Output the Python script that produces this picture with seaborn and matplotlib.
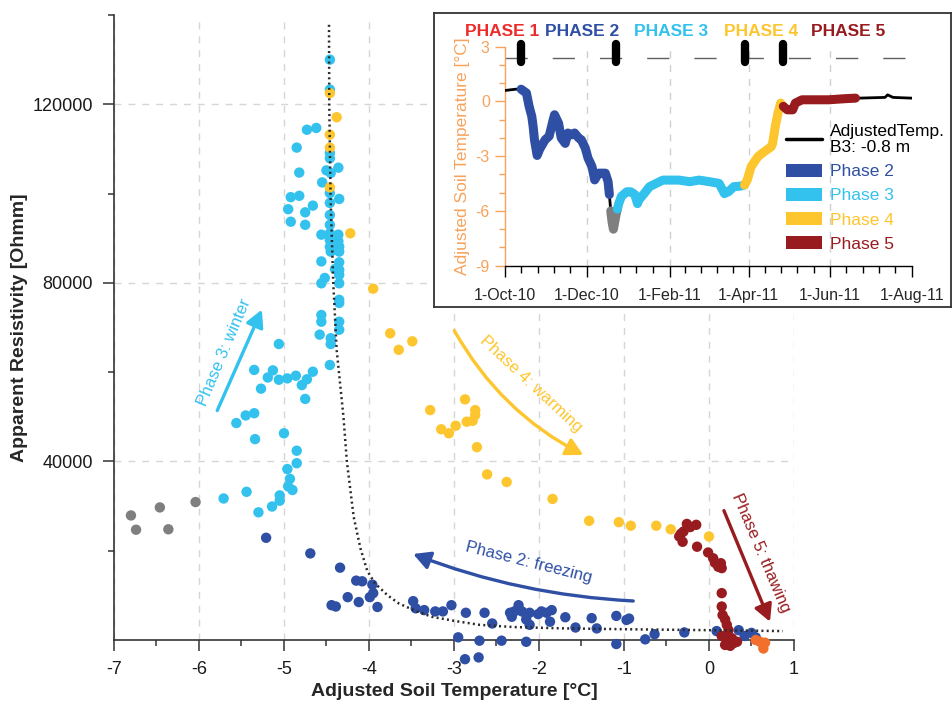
import numpy as np
import pandas as pd
import matplotlib
matplotlib.use("Agg")
import matplotlib.pyplot as plt
import matplotlib.dates as mdates
from matplotlib.lines import Line2D
from matplotlib.patches import Patch
from matplotlib.ticker import MultipleLocator, FixedLocator
import seaborn as sns

# ---------------------------------------------------------------------------
# Soil temperature [°C] vs. apparent resistivity [Ohm m], grouped by phase
# ---------------------------------------------------------------------------
trans_temp = [-6.80, -6.74, -6.46, -6.36, -6.04]
trans_rho = [27900, 24700, 29700, 24800, 30900]

p1_temp = [0.55, 0.60, 0.66, 0.64]
p1_rho = [0, -400, -600, -1900]

p2_temp = [-5.21, -4.69, -4.34, -4.15, -4.08, -3.96, -3.95, -3.99, -4.25, -4.12,
           -3.90, -4.44, -4.39, -3.48, -3.45, -3.35, -3.22, -3.13, -3.03, -2.86,
           -2.64, -2.55, -2.95, -2.70, -2.44, -2.15, -2.87, -2.71, -2.34, -2.29,
           -2.24, -2.20, -2.15, -2.11, -2.01, -1.97, -1.91, -1.85, -2.32, -2.15,
           -2.11, -1.87, -1.69, -1.57, -1.38, -1.32, -1.09, -0.97, -0.94, -1.09,
           -0.75, -0.64, -0.29, 0.09, 0.35, 0.42, 0.50, 0.55]
p2_rho = [22900, 19400, 16200, 13300, 13150, 12400, 10500, 9600, 9600, 8500,
          7400, 7800, 7500, 8700, 7100, 6700, 6400, 6400, 7800, 6100,
          6100, 3700, 600, -150, -150, -400, -4300, -3900, 6100, 6400,
          7800, 6400, 5800, 6100, 5800, 6400, 6100, 6700, 5200, 4600,
          3400, 4100, 5100, 2800, 4900, 2600, 5400, 4500, 4800, -900,
          150, 1300, 1700, 2000, 2200, 900, 1600, 600]

p3_temp = [-4.46, -4.46, -4.73, -4.62, -4.85, -4.46, -4.46, -4.82, -4.50, -4.45,
           -4.36, -4.55, -4.46, -4.46, -4.35, -4.92, -4.82, -4.95, -4.66, -4.75,
           -4.92, -4.75, -4.46, -4.46, -4.56, -4.46, -4.36, -4.46, -4.36, -4.46,
           -4.35, -4.45, -4.35, -4.56, -4.35, -4.35, -4.40, -4.35, -4.52, -4.56,
           -4.35, -4.35, -4.35, -4.56, -4.56, -4.35, -4.35, -4.58, -4.45, -4.45,
           -5.06, -4.46, -5.35, -5.13, -5.19, -5.06, -4.96, -4.86, -4.66, -4.73,
           -4.79, -5.27, -4.75, -5.35, -5.45, -5.56, -5.34, -5.00, -4.85, -4.85,
           -4.96, -4.93, -4.95, -4.90, -5.05, -5.05, -5.44, -5.71, -5.14, -5.30]
p3_rho = [130000, 123300, 114300, 114700, 110300, 109100, 107900, 104700, 105200, 104600,
          105800, 102500, 100100, 97900, 98800, 99200, 99500, 96500, 97300, 95800,
          93700, 93000, 95200, 93000, 90800, 91100, 90800, 89600, 89300, 88100,
          88100, 87000, 87000, 84800, 84600, 82900, 83100, 81800, 81100, 79900,
          79900, 76200, 75500, 72800, 71300, 71300, 69500, 68400, 67600, 66300,
          66300, 61600, 60500, 60400, 58800, 58300, 58600, 59200, 60100, 58400,
          57100, 56300, 54000, 50800, 50300, 48600, 45000, 46300, 42400, 39600,
          38300, 36100, 34400, 33600, 32400, 31200, 33200, 31700, 29900, 28600]

p4_temp = [-4.46, -4.38, -4.46, -4.46, -4.46, -4.22, -3.95, -3.75, -3.65, -3.49,
           -3.28, -2.87, -2.75, -2.75, -2.85, -2.78, -3.15, -3.06, -2.98, -2.73,
           -2.61, -2.38, -1.84, -1.41, -1.06, -0.92, -0.62, -0.45, 0.00]
p4_rho = [122500, 117100, 113200, 110300, 101400, 91100, 78700, 68700, 65000, 66900,
          51500, 53900, 51500, 50400, 48900, 49100, 47200, 46300, 48000, 43200,
          37100, 35400, 31600, 26700, 26400, 25600, 25600, 24800, 23200]

p5_temp = [-0.26, -0.15, -0.22, -0.30, -0.33, -0.35, -0.31, -0.14, -0.01, 0.05,
           0.07, 0.14, 0.15, 0.11, 0.15, 0.15, 0.16, 0.19, 0.21, 0.23,
           0.15, 0.21, 0.27, 0.33, 0.19, 0.25, 0.29]
p5_rho = [26000, 25800, 25300, 24300, 23800, 23200, 22000, 20900, 19600, 18300,
          17300, 17200, 16100, 16400, 10500, 7500, 5600, 4600, 3400, 2200,
          900, 0, 400, -400, -1100, -1300, -700]

# Fitted temperature-resistivity relation (dotted curve)
fit_temp = [-4.47, -4.467, -4.451, -4.42, -4.38, -4.30, -4.26, -4.18, -4.10, -4.02,
            -3.93, -3.78, -3.65, -3.45, -3.26, -3.00, -2.70, -2.30, -1.70, -0.93,
            0.00, 0.87]
fit_rho = [137800, 120000, 98600, 80000, 65000, 50000, 40000, 27600, 20500, 15500,
           12700, 10000, 8200, 6500, 5200, 4300, 3400, 2900, 2600, 2400,
           2200, 2000]

# ---------------------------------------------------------------------------
# Borehole B3 temperature record at -0.8 m
# ---------------------------------------------------------------------------
temp_dates = ["2010-10-01", "2010-10-09", "2010-10-13", "2010-10-17", "2010-10-19",
              "2010-10-21", "2010-10-22", "2010-10-23", "2010-10-25", "2010-10-27",
              "2010-10-31", "2010-11-03", "2010-11-06", "2010-11-07", "2010-11-10",
              "2010-11-12", "2010-11-15", "2010-11-17", "2010-11-20", "2010-11-22",
              "2010-11-25", "2010-11-27", "2010-11-30", "2010-12-02", "2010-12-05",
              "2010-12-07", "2010-12-10", "2010-12-12", "2010-12-15", "2010-12-17",
              "2010-12-18", "2010-12-19", "2010-12-20", "2010-12-21", "2010-12-23",
              "2010-12-24", "2010-12-25", "2010-12-27", "2010-12-31", "2011-01-03",
              "2011-01-06", "2011-01-08", "2011-01-09", "2011-01-13", "2011-01-17",
              "2011-01-22", "2011-01-27", "2011-02-01", "2011-02-08", "2011-02-16",
              "2011-02-23", "2011-03-03", "2011-03-10", "2011-03-14", "2011-03-17",
              "2011-03-21", "2011-03-26", "2011-03-29", "2011-03-31", "2011-04-03",
              "2011-04-08", "2011-04-11", "2011-04-18", "2011-04-19", "2011-04-21",
              "2011-04-23", "2011-04-25", "2011-04-27", "2011-04-30", "2011-05-04",
              "2011-05-06", "2011-05-11", "2011-05-21", "2011-05-31", "2011-06-12",
              "2011-06-20", "2011-06-22", "2011-07-12", "2011-07-14", "2011-07-18",
              "2011-08-01"]
temp_values = [0.60, 0.67, 0.67, 0.46, -0.27, -0.82, -1.37, -2.10, -2.96, -2.60,
               -2.10, -1.90, -1.00, -0.73, -1.19, -2.00, -2.30, -1.73, -1.83, -1.73,
               -2.00, -2.10, -2.56, -3.10, -3.57, -4.30, -3.93, -3.93, -3.93, -4.39,
               -5.10, -6.00, -6.60, -7.00, -6.20, -5.90, -5.60, -5.20, -4.95, -4.95,
               -5.10, -5.60, -5.40, -5.05, -4.67, -4.49, -4.31, -4.31, -4.31, -4.40,
               -4.31, -4.40, -4.49, -5.05, -4.95, -4.67, -4.64, -4.58, -4.31, -3.57,
               -3.03, -2.85, -2.48, -2.30, -1.37, -0.64, -0.09, -0.27, -0.46, -0.46,
               -0.09, 0.09, 0.09, 0.09, 0.15, 0.18, 0.18, 0.22, 0.36, 0.22,
               0.18]

phase_names = ["Phase 2", "Transition", "Phase 3", "Phase 4", "Phase 5"]
phase_start = ["2010-10-13", "2010-12-19", "2010-12-24", "2011-03-29", "2011-04-27"]
phase_end = ["2010-12-18", "2010-12-24", "2011-03-29", "2011-04-27", "2011-06-20"]
phase_bounds = ["2010-10-13", "2010-12-23", "2011-03-29", "2011-04-27"]
phase_titles = ["PHASE 1", "PHASE 2", "PHASE 3", "PHASE 4", "PHASE 5"]

# ---------------------------------------------------------------------------
# Styling
# ---------------------------------------------------------------------------
colors = {
    "Transition": "#7F7F7F",
    "Phase 1": "#F26F2C",
    "Phase 2": "#2E4FA3",
    "Phase 3": "#33C1EE",
    "Phase 4": "#FDC52E",
    "Phase 5": "#981C1F",
}
title_colors = ["#ED2B2A", "#2E4FA3", "#33C1EE", "#FDC52E", "#981C1F"]
AXIS_ORANGE = "#F7A35C"
SPINE = "#333333"

sns.set_theme(style="white")
plt.rcParams["font.family"] = ["Liberation Sans", "DejaVu Sans"]
plt.rcParams["axes.unicode_minus"] = False

fig = plt.figure(figsize=(9.52, 7.04), dpi=100)

# ---------------------------------------------------------------------------
# Main scatter panel
# ---------------------------------------------------------------------------
ax = fig.add_axes([0.1197, 0.0909, 0.7143, 0.8878])

groups = [("Transition", trans_temp, trans_rho), ("Phase 2", p2_temp, p2_rho),
          ("Phase 3", p3_temp, p3_rho), ("Phase 4", p4_temp, p4_rho),
          ("Phase 5", p5_temp, p5_rho), ("Phase 1", p1_temp, p1_rho)]
df = pd.concat([pd.DataFrame({"temp": t, "rho": r, "phase": name})
                for name, t, r in groups], ignore_index=True)

sns.scatterplot(data=df, x="temp", y="rho", hue="phase", palette=colors,
                s=56, linewidth=0, legend=False, ax=ax, clip_on=False, zorder=3)
ax.plot(fit_temp, fit_rho, color="#2a2a2a", lw=1.8, dashes=(0.8, 1.3),
        zorder=4, clip_on=False)

ax.set_xlim(-7, 1)
ax.set_ylim(0, 140000)
ax.set_xticks(range(-7, 2))
ax.xaxis.set_minor_locator(MultipleLocator(0.5))
ax.set_yticks([40000, 80000, 120000])
ax.set_yticklabels(["40000", "80000", "120000"])
ax.yaxis.set_minor_locator(FixedLocator([20000, 60000, 100000, 140000]))
ax.tick_params(which="major", direction="out", length=8, width=1.1,
               color=SPINE, labelsize=13, pad=7, labelcolor="#1a1a1a")
ax.tick_params(which="minor", direction="out", length=4.5, width=1.1, color=SPINE)
ax.tick_params(axis="x", which="both", bottom=True)
ax.tick_params(axis="y", which="both", left=True)
for side in ["top", "right"]:
    ax.spines[side].set_visible(False)
for side in ["left", "bottom"]:
    ax.spines[side].set_color(SPINE)
    ax.spines[side].set_linewidth(1.2)
ax.grid(True, which="major", color="#D6D6D6", lw=1.0, dashes=(5, 5))
ax.set_axisbelow(True)
ax.set_xlabel("Adjusted Soil Temperature [°C]", fontsize=14, fontweight="bold",
              labelpad=4)
ax.set_ylabel("Apparent Resistivity [Ohmm]", fontsize=14, fontweight="bold",
              labelpad=3)

arrow_kw = dict(arrowstyle="-|>,head_length=0.6,head_width=0.32",
                mutation_scale=17, lw=2.4, shrinkA=0, shrinkB=0)

ax.annotate("", xy=(-5.26, 74000), xytext=(-5.785, 51400),
            arrowprops=dict(color=colors["Phase 3"], **arrow_kw))
ax.text(-5.70, 64500, "Phase 3: winter", color=colors["Phase 3"], fontsize=12,
        rotation=67, rotation_mode="anchor", ha="center", va="center")

ax.annotate("", xy=(-1.479, 41460), xytext=(-2.996, 69310),
            arrowprops=dict(color=colors["Phase 4"],
                            connectionstyle="arc3,rad=0.15", **arrow_kw))
ax.text(-2.10, 57400, "Phase 4: warming", color=colors["Phase 4"], fontsize=12,
        rotation=-43, rotation_mode="anchor", ha="center", va="center")

ax.annotate("", xy=(-3.48, 19270), xytext=(-0.891, 8740),
            arrowprops=dict(color=colors["Phase 2"],
                            connectionstyle="arc3,rad=-0.08", **arrow_kw))
ax.text(-2.12, 17300, "Phase 2: freezing", color=colors["Phase 2"], fontsize=12,
        rotation=-14, rotation_mode="anchor", ha="center", va="center")

ax.annotate("", xy=(0.718, 4100), xytext=(0.176, 28980),
            arrowprops=dict(color=colors["Phase 5"], **arrow_kw))
ax.text(0.612, 19500, "Phase 5: thawing", color=colors["Phase 5"], fontsize=12,
        rotation=-67, rotation_mode="anchor", ha="center", va="center")

# ---------------------------------------------------------------------------
# Inset: temperature time series in a framed box
# ---------------------------------------------------------------------------
frame = fig.add_axes([0.4559, 0.5639, 0.5431, 0.4176])
frame.set_zorder(5)
frame.set_facecolor("white")
frame.set_xticks([])
frame.set_yticks([])
for sp in frame.spines.values():
    sp.set_color(SPINE)
    sp.set_linewidth(1.3)

ax_in = fig.add_axes([0.5305, 0.6226, 0.4272, 0.3111])
ax_in.set_zorder(6)
ax_in.patch.set_alpha(0)

ts = pd.DataFrame({"date": pd.to_datetime(temp_dates), "temp": temp_values})
sns.lineplot(data=ts, x="date", y="temp", color="black", lw=2.0, ax=ax_in,
             zorder=3)
for name, start, end in zip(phase_names, phase_start, phase_end):
    seg = ts[(ts["date"] >= start) & (ts["date"] <= end)]
    sns.lineplot(data=seg, x="date", y="temp", color=colors[name], lw=6.5,
                 ax=ax_in, zorder=4)

x0 = pd.Timestamp("2010-10-01")
x1 = pd.Timestamp("2011-08-01")
ax_in.set_xlim(x0, x1)
ax_in.set_ylim(-9, 3)

major_dates = pd.to_datetime(["2010-10-01", "2010-12-01", "2011-02-01",
                              "2011-04-01", "2011-06-01", "2011-08-01"])
major_num = mdates.date2num(major_dates)
minor_num = np.concatenate([np.linspace(a, b, 6)[1:-1]
                            for a, b in zip(major_num[:-1], major_num[1:])])
ax_in.xaxis.set_major_locator(FixedLocator(major_num))
ax_in.xaxis.set_minor_locator(FixedLocator(minor_num))
ax_in.set_xticklabels([d.strftime("%-d-%b-%y") for d in major_dates])
ax_in.set_yticks([-9, -6, -3, 0, 3])
ax_in.yaxis.set_minor_locator(MultipleLocator(1))

for d in major_num[1:-1]:
    ax_in.axvline(d, color="#D0D0D0", lw=1.0, dashes=(5, 5), zorder=1)
ax_in.axhline(2.38, color="#606060", lw=1.0, dashes=(16, 18), zorder=2)
for d in pd.to_datetime(phase_bounds):
    ax_in.plot([d, d], [2.17, 3.13], color="black", lw=6,
               solid_capstyle="round", clip_on=False, zorder=5)

ax_in.tick_params(axis="x", which="major", direction="out", length=8, width=1.0,
                  color="black", labelsize=11.5, pad=8, bottom=True)
ax_in.tick_params(axis="x", which="minor", direction="out", length=5, width=1.0,
                  color="black", bottom=True)
ax_in.tick_params(axis="y", which="major", direction="out", length=7, width=1.0,
                  color=AXIS_ORANGE, labelcolor=AXIS_ORANGE, labelsize=11.5,
                  pad=4, left=True)
ax_in.tick_params(axis="y", which="minor", direction="out", length=4, width=1.0,
                  color=AXIS_ORANGE, left=True)
for side in ["top", "right"]:
    ax_in.spines[side].set_visible(False)
ax_in.spines["bottom"].set_color("black")
ax_in.spines["bottom"].set_linewidth(1.0)
ax_in.spines["left"].set_color(AXIS_ORANGE)
ax_in.spines["left"].set_linewidth(1.0)
ax_in.set_xlabel("")
ax_in.set_ylabel("Adjusted Soil Temperature [°C]", color=AXIS_ORANGE,
                 fontsize=12.5, labelpad=4)

title_x = [502, 582, 671, 761, 848]
for label, col, px in zip(phase_titles, title_colors, title_x):
    fig.text(px / 952, 1 - 31 / 704, label, color=col, fontsize=12.5,
             fontweight="bold", ha="center", va="center", zorder=7)

handles = [Line2D([], [], color="black", lw=2.5)]
handles += [Patch(facecolor=colors[n], edgecolor="none")
            for n in ["Phase 2", "Phase 3", "Phase 4", "Phase 5"]]
labels = ["AdjustedTemp.\nB3: -0.8 m", "Phase 2", "Phase 3", "Phase 4", "Phase 5"]
leg = ax_in.legend(handles, labels, loc="upper left",
                   bbox_to_anchor=(786 / 952, 1 - 124 / 704),
                   bbox_transform=fig.transFigure, frameon=False, fontsize=12.5,
                   handlelength=2.1, handleheight=0.76, handletextpad=0.45,
                   labelspacing=0.5, borderaxespad=0, borderpad=0)
for txt, col in zip(leg.get_texts(),
                    ["black", colors["Phase 2"], colors["Phase 3"],
                     colors["Phase 4"], colors["Phase 5"]]):
    txt.set_color(col)
    txt.set_linespacing(1.1)

fig.savefig("out.png", dpi=100)
